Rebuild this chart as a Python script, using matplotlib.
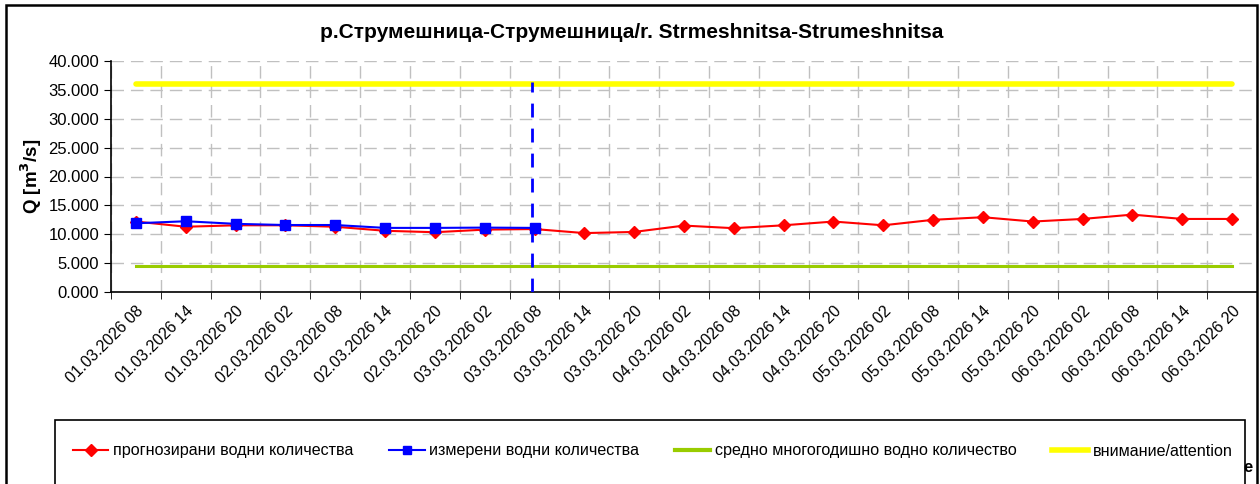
import numpy as np
import matplotlib
matplotlib.use("Agg")
import matplotlib.pyplot as plt
from matplotlib.patches import Rectangle
from matplotlib.lines import Line2D

plt.rcParams["font.family"] = ["Liberation Sans", "DejaVu Sans"]

# ── Data ─────────────────────────────────────────────────────────────────────
labels = [
    "01.03.2026 08", "01.03.2026 14", "01.03.2026 20",
    "02.03.2026 02", "02.03.2026 08", "02.03.2026 14", "02.03.2026 20",
    "03.03.2026 02", "03.03.2026 08", "03.03.2026 14", "03.03.2026 20",
    "04.03.2026 02", "04.03.2026 08", "04.03.2026 14", "04.03.2026 20",
    "05.03.2026 02", "05.03.2026 08", "05.03.2026 14", "05.03.2026 20",
    "06.03.2026 02", "06.03.2026 08", "06.03.2026 14", "06.03.2026 20",
]
forecast = [12.2, 11.3, 11.55, 11.55, 11.3, 10.6, 10.35, 10.8, 10.9,
            10.2, 10.4, 11.5, 11.05, 11.55, 12.2, 11.55, 12.5, 12.95,
            12.2, 12.65, 13.4, 12.65, 12.65]
measured = [11.9, 12.25, 11.8, 11.6, 11.6, 11.1, 11.1, 11.15, 11.1]
mean_q = 4.5
attention_q = 36.0
now_index = 8

RED = "#FF0000"
BLUE = "#0000FF"
GREEN = "#99CC00"
YELLOW = "#FFFF00"
GRID = "#C0C0C0"

W, H = 1260, 484
fig = plt.figure(figsize=(W / 100, H / 100), dpi=100)
fig.patch.set_facecolor("white")

# plot area in pixel terms
left, right, top, bottom = 111, 1257, 61, 292
ax = fig.add_axes([left / W, 1 - bottom / H, (right - left) / W, (bottom - top) / H])

x = np.arange(len(labels))
n = len(labels)

ax.plot(x[[0, -1]], [attention_q, attention_q], color=YELLOW, lw=4, zorder=2,
        solid_capstyle="round")
ax.plot(x[[0, -1]], [mean_q, mean_q], color=GREEN, lw=2.2, zorder=2)
ax.plot(x, forecast, color=RED, lw=1.5, marker="D", markersize=6.5, zorder=3)
ax.plot(x[:len(measured)], measured, color=BLUE, lw=1.5, marker="s",
        markersize=7, zorder=4)
ax.plot([now_index - 0.05] * 2, [0, attention_q + 0.3], color=BLUE, lw=2,
        linestyle=(0, (5, 4)), zorder=5)

ax.set_xlim(-0.5, n - 0.5)
ax.set_ylim(0, 40)
ax.set_yticks(np.arange(0, 40.1, 5))
ax.set_yticklabels([f"{v:.3f}" for v in np.arange(0, 40.1, 5)], fontsize=12)

ax.set_xticks(x)
ax.set_xticklabels(labels, rotation=45, ha="right", rotation_mode="anchor",
                   fontsize=11.5)
ax.set_xticks(np.arange(-0.5, n, 1), minor=True)
ax.tick_params(axis="x", which="major", length=0, pad=8)
ax.tick_params(axis="x", which="minor", length=5, direction="out", color="black")
ax.tick_params(axis="y", length=5, direction="out", color="black")

ax.grid(True, axis="y", color=GRID, lw=1, linestyle=(0, (9, 5)))
ax.grid(True, axis="x", which="minor", color=GRID, lw=1, linestyle=(0, (9, 5)))
ax.set_axisbelow(True)

for s in ("top", "right"):
    ax.spines[s].set_visible(False)
for s in ("left", "bottom"):
    ax.spines[s].set_color("black")
    ax.spines[s].set_linewidth(1.2)

ax.set_ylabel("Q [m$^\\mathbf{3}$/s]", fontsize=13.5, fontweight="bold")
ax.yaxis.set_label_coords(-(112 - 45) / (right - left), 0.5)

fig.text(632 / W, 1 - 32 / H,
         "р.Струмешница-Струмешница/r. Strmeshnitsa-Strumeshnitsa",
         ha="center", va="center", fontsize=15, fontweight="bold")

# ── Frames ────────────────────────────────────────────────────────────────────
fig.patches.append(Rectangle((6 / W, -0.2), (1257 - 6) / W, 1.2 - 5 / H,
                             transform=fig.transFigure, fill=False,
                             edgecolor="black", lw=1.8))
fig.patches.append(Rectangle((55 / W, -0.2), (1245 - 55) / W, 0.2 + (H - 420) / H,
                             transform=fig.transFigure, fill=False,
                             edgecolor="black", lw=1.2))

handles = [
    Line2D([], [], color=RED, lw=1.5, marker="D", markersize=6),
    Line2D([], [], color=BLUE, lw=1.5, marker="s", markersize=6),
    Line2D([], [], color=GREEN, lw=3),
    Line2D([], [], color=YELLOW, lw=4),
]
names = ["прогнозирани водни количества", "измерени водни количества",
         "средно многогодишно водно количество", "внимание/attention"]
fig.legend(handles, names, loc="center left", ncol=4, frameon=False,
           bbox_to_anchor=(73 / W, 1 - 451 / H), fontsize=11.6,
           handlelength=2.2, handletextpad=0.3, columnspacing=2.2,
           borderaxespad=0, borderpad=0)

fig.text(1243 / W, 1 - 467 / H, "e", ha="left", va="center",
         fontsize=12, fontweight="bold")

fig.savefig("out.png", dpi=100, facecolor="white")
